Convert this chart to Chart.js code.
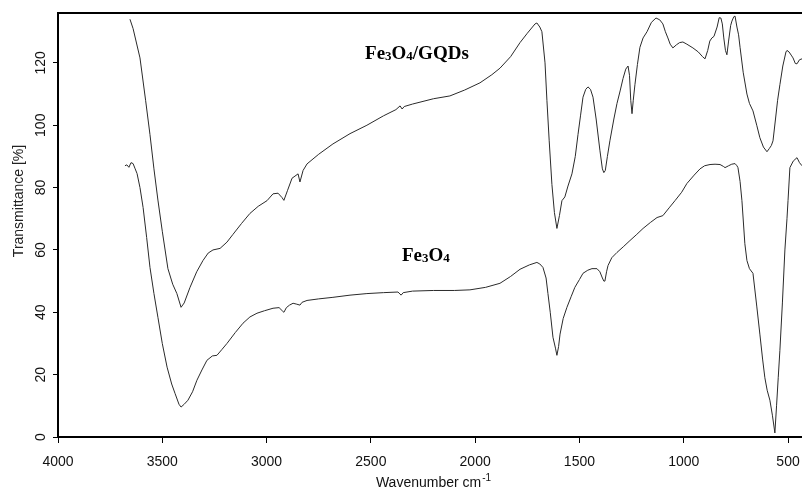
<!DOCTYPE html>
<html>
<head>
<meta charset="utf-8">
<script src="https://cdn.jsdelivr.net/npm/chart.js@4.4.1/dist/chart.umd.min.js"></script>
<style>
  html, body { margin: 0; padding: 0; background: #fff; }
  #wrap { width: 802px; height: 489px; }
</style>
</head>
<body>
<div id="wrap"><canvas id="ftir"></canvas></div>
<script>
// FTIR spectra, wavenumber (cm-1) vs transmittance (%)
var gqdWn = [3655, 3640, 3607, 3580, 3559, 3540, 3521, 3500, 3473, 3450, 3430, 3410, 3395, 3367, 3335, 3305, 3280, 3257, 3223, 3190, 3161, 3120, 3080, 3040, 2998, 2969, 2945, 2926, 2917, 2900, 2878, 2849, 2840, 2825, 2806, 2750, 2682, 2600, 2519, 2440, 2380, 2360, 2350, 2340, 2300, 2200, 2121, 2050, 1977, 1920, 1881, 1830, 1785, 1750, 1713, 1704, 1690, 1680, 1665, 1656, 1645, 1632, 1620, 1608, 1596, 1584, 1570, 1555, 1536, 1520, 1507, 1495, 1483, 1470, 1459, 1447, 1435, 1420, 1402, 1390, 1383, 1376, 1366, 1354, 1335, 1320, 1305, 1291, 1278, 1267, 1260, 1254, 1248, 1242, 1234, 1222, 1210, 1195, 1176, 1155, 1133, 1115, 1100, 1088, 1076, 1065, 1052, 1035, 1020, 1004, 985, 956, 930, 910, 898, 885, 875, 865, 855, 840, 830, 822, 815, 808, 800, 793, 785, 775, 769, 760, 754, 745, 737, 730, 715, 697, 685, 668, 650, 635, 618, 601, 590, 580, 572, 560, 550, 539, 525, 510, 505, 495, 485, 476, 465, 457, 445, 433];
var gqdT = [134, 131, 121.6, 108, 97, 86, 76, 66, 54, 49, 46, 41.6, 43, 48, 53, 56.6, 59, 60, 60.5, 62.5, 65, 68.5, 71.7, 74, 75.8, 78, 78.2, 76.8, 75.9, 79, 83, 84.4, 81.8, 85.5, 87.6, 90.7, 94, 97.3, 100, 103, 105, 106.2, 105.2, 106, 106.8, 108.5, 109.4, 111.3, 113.6, 116.2, 118.3, 122, 126.5, 129.5, 132.5, 132.8, 131.5, 130, 120, 108, 95, 81, 72, 66.9, 71, 75.8, 77, 80.5, 84.4, 90, 97, 103, 109, 111.5, 112.3, 111.5, 109, 102, 92, 86, 84.8, 85.5, 90, 95, 102, 107, 111, 115, 118, 119, 116, 108, 103.7, 108, 113, 119.5, 125, 128, 130, 133, 134.4, 133.8, 132.5, 130, 128, 126, 124.8, 125.8, 126.5, 126.7, 126, 124.8, 123.5, 122, 121.3, 124, 127, 128, 128.5, 131.5, 134.5, 134.4, 132.5, 128, 124, 122.6, 127, 132, 133.4, 134.8, 135, 131.5, 129, 125, 117, 110, 107, 104.6, 100, 96, 93, 91.5, 92.5, 93.5, 95, 102, 108, 113, 119, 123.5, 124, 123.5, 122.5, 121.6, 119.8, 119.7, 121, 121.3];

var feWn = [3679, 3670, 3660, 3650, 3640, 3630, 3621, 3607, 3592, 3575, 3559, 3540, 3521, 3500, 3477, 3455, 3439, 3420, 3410, 3395, 3377, 3355, 3334, 3310, 3286, 3260, 3238, 3215, 3190, 3150, 3113, 3080, 3046, 3010, 2969, 2940, 2925, 2917, 2905, 2890, 2873, 2855, 2840, 2830, 2806, 2750, 2682, 2600, 2519, 2440, 2370, 2355, 2345, 2300, 2200, 2100, 2025, 1950, 1881, 1830, 1785, 1740, 1704, 1690, 1675, 1660, 1651, 1640, 1627, 1615, 1608, 1600, 1593, 1578, 1560, 1540, 1522, 1500, 1483, 1460, 1440, 1416, 1402, 1390, 1383, 1378, 1370, 1363, 1345, 1320, 1290, 1258, 1225, 1195, 1160, 1128, 1100, 1070, 1042, 1010, 985, 950, 922, 900, 874, 850, 826, 810, 802, 785, 770, 754, 745, 740, 730, 721, 707, 697, 685, 668, 650, 635, 622, 611, 600, 587, 575, 563, 555, 547, 539, 527, 515, 505, 500, 491, 475, 457, 445, 433];
var feT = [87, 87.3, 86.5, 88, 87.7, 86, 84.5, 80, 73.6, 64, 54.4, 46, 38.4, 30, 22.4, 17, 14, 10.5, 9.6, 10.5, 11.8, 14.5, 18.2, 21.5, 24.6, 26, 26.2, 28, 30, 33.5, 36.5, 38.5, 39.7, 40.5, 41.3, 41.5, 40.5, 40, 41.5, 42.3, 42.9, 42.6, 42.3, 43.2, 43.8, 44.3, 44.8, 45.5, 46, 46.3, 46.5, 45.5, 46.3, 46.8, 47, 47, 47.2, 48, 49.3, 51.5, 53.8, 55.2, 56, 55.5, 54.4, 51, 46, 40, 32, 28.5, 26.2, 29, 33, 38, 41.6, 45, 48, 50.5, 52.5, 53.5, 54, 54, 53, 51, 50, 50, 53, 55, 57.5, 59.2, 61, 63, 65, 66.9, 68.8, 70.4, 71, 73.5, 75.8, 78.5, 81.3, 84, 86, 87, 87.4, 87.5, 87.4, 86.8, 86.4, 87, 87.5, 87.7, 87, 86.4, 82, 75.8, 62, 56.6, 54, 52.5, 42, 33, 25, 19, 15, 11.8, 7, 1.3, 10, 19, 27.8, 43, 60, 70, 75.8, 86.4, 88.5, 89.6, 88, 87];

var xTicks = [4000, 3500, 3000, 2500, 2000, 1500, 1000, 500];
var yTicks = [0, 20, 40, 60, 80, 100, 120];

var sansFont = '"Liberation Sans", Arial, sans-serif';

function toPoints(xs, ys) {
  return xs.map(function(x, i) { return { x: x, y: ys[i] }; });
}

// frame line on top, rotated y labels, x title with superscript, curve labels
var decorPlugin = {
  id: 'decor',
  afterDraw: function(chart) {
    var ctx = chart.ctx;
    var area = chart.chartArea;
    var xs = chart.scales.x, ys = chart.scales.y;
    ctx.save();
    ctx.strokeStyle = '#000';
    ctx.lineWidth = 2;
    ctx.beginPath();
    ctx.moveTo(area.left - 1, area.top);
    ctx.lineTo(area.right, area.top);
    ctx.stroke();

    // y tick labels, turned like the original
    ctx.fillStyle = '#111';
    ctx.font = '14px ' + sansFont;
    ctx.textAlign = 'center';
    ctx.textBaseline = 'middle';
    yTicks.forEach(function(v) {
      ctx.save();
      ctx.translate(41, ys.getPixelForValue(v));
      ctx.rotate(-Math.PI / 2);
      ctx.fillText(String(v), 0, 0);
      ctx.restore();
    });

    // y title
    ctx.save();
    ctx.fillStyle = '#222';
    ctx.translate(19, 201);
    ctx.rotate(-Math.PI / 2);
    ctx.fillText('Transmittance [%]', 0, 0);
    ctx.restore();

    // x axis title
    ctx.fillStyle = '#111';
    ctx.textBaseline = 'alphabetic';
    ctx.textAlign = 'left';
    ctx.font = '14px ' + sansFont;
    var main = 'Wavenumber cm';
    var w1 = ctx.measureText(main).width;
    ctx.font = '10px ' + sansFont;
    var w2 = ctx.measureText('-1').width;
    var cx = (area.left + area.right) / 2 + 3;
    var sx = cx - (w1 + w2) / 2;
    ctx.font = '14px ' + sansFont;
    ctx.fillText(main, sx, 487);
    ctx.font = '10px ' + sansFont;
    ctx.fillText('-1', sx + w1 + 1, 481);

    // curve labels: [text, subscript flag] pieces
    function chem(parts, x, y) {
      var px = x;
      parts.forEach(function(p) {
        ctx.font = p[1] ? 'bold 13px "Liberation Serif", "Times New Roman", serif'
                        : 'bold 19px "Liberation Serif", "Times New Roman", serif';
        ctx.fillText(p[0], px, p[1] ? y + 1 : y);
        px += ctx.measureText(p[0]).width;
      });
    }
    ctx.fillStyle = '#000';
    chem([['Fe', 0], ['3', 1], ['O', 0], ['4', 1], ['/GQDs', 0]], xs.getPixelForValue(2528), ys.getPixelForValue(121.2));
    chem([['Fe', 0], ['3', 1], ['O', 0], ['4', 1]], xs.getPixelForValue(2351), ys.getPixelForValue(56.5));
    ctx.restore();
  }
};

new Chart(document.getElementById('ftir'), {
  type: 'line',
  data: {
    datasets: [
      { label: 'Fe3O4/GQDs', data: toPoints(gqdWn, gqdT), borderColor: '#2a2a2a', borderWidth: 1, pointRadius: 0, tension: 0 },
      { label: 'Fe3O4', data: toPoints(feWn, feT), borderColor: '#2a2a2a', borderWidth: 1, pointRadius: 0, tension: 0 }
    ]
  },
  plugins: [decorPlugin],
  options: {
    responsive: true,
    maintainAspectRatio: false,
    animation: false,
    layout: { padding: { top: 13, right: 0, left: 0, bottom: 0 } },
    plugins: { legend: { display: false }, tooltip: { enabled: false } },
    scales: {
      x: {
        type: 'linear',
        reverse: true,
        min: 433,
        max: 4000,
        afterBuildTicks: function(scale) { scale.ticks = xTicks.map(function(v) { return { value: v }; }); },
        afterFit: function(scale) { scale.height = 52; scale.paddingLeft = 0; scale.paddingRight = 0; },
        border: { display: true, color: '#000', width: 2 },
        grid: { display: true, drawOnChartArea: false, drawTicks: true, tickLength: 6, color: '#000', lineWidth: 1 },
        ticks: {
          color: '#111', font: { family: sansFont, size: 14 }, padding: 11, maxRotation: 0, minRotation: 0,
          callback: function(v) { return String(v); }
        }
      },
      y: {
        min: 0,
        max: 136,
        afterBuildTicks: function(scale) { scale.ticks = yTicks.map(function(v) { return { value: v }; }); },
        afterFit: function(scale) { scale.width = 58; scale.paddingTop = 0; scale.paddingBottom = 0; },
        border: { display: true, color: '#000', width: 2 },
        grid: { display: true, drawOnChartArea: false, drawTicks: true, tickLength: 5, color: '#000', lineWidth: 1 },
        ticks: { display: false }
      }
    }
  }
});
</script>
</body>
</html>
